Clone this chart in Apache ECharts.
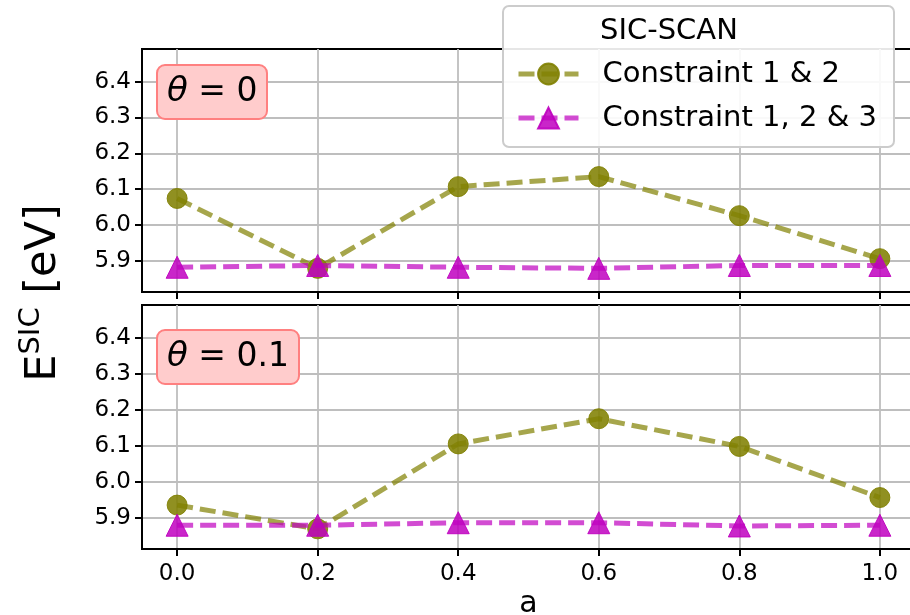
<!DOCTYPE html>
<html><head><meta charset="utf-8">
<script src="https://cdn.jsdelivr.net/npm/echarts@6/dist/echarts.min.js"></script>
<style>html,body{margin:0;padding:0;background:#fff}#c{width:910px;height:615px}</style>
</head><body><div id="c"></div>
<script>
// ---- data ----
const aValues = [0.0, 0.2, 0.4, 0.6, 0.8, 1.0];
const xTicks = [0.0, 0.2, 0.4, 0.6, 0.8, 1.0];
const yTicks = [5.9, 6.0, 6.1, 6.2, 6.3, 6.4];
const theta0_c12 = [6.074, 5.879, 6.107, 6.135, 6.026, 5.906];
const theta0_c123 = [5.882, 5.887, 5.882, 5.879, 5.887, 5.887];
const theta01_c12 = [5.935, 5.869, 6.105, 6.175, 6.098, 5.956];
const theta01_c123 = [5.879, 5.879, 5.886, 5.886, 5.877, 5.879];
const seriesNames = ['Constraint 1 & 2', 'Constraint 1, 2 & 3'];
const panelThetas = ['0', '0.1'];
const legendTitle = 'SIC-SCAN';
const xName = 'a';

// ---- styling ----
const FONT = 'DejaVu Sans';
const OLIVE_LINE = 'rgba(128,128,0,0.7)';
const OLIVE_MARK = 'rgba(128,128,0,0.87)';
const MAG_LINE = 'rgba(191,0,191,0.7)';
const MAG_MARK = 'rgba(191,0,191,0.85)';
const GRID_COLOR = '#bebebe';

const chart = echarts.init(document.getElementById('c'), null, {renderer: 'canvas'});

const grids = [
  {left: 142, top: 49, width: 773, height: 243},
  {left: 142, top: 305, width: 773, height: 244}
].map(g => Object.assign(g, {
  show: true, borderColor: '#000', borderWidth: 2, backgroundColor: 'transparent',
  outerBoundsMode: 'none', containLabel: false
}));

function xAxisFor(i, showLabels) {
  return {
    type: 'value', gridIndex: i, min: -0.05, max: 1.05,
    axisLine: {show: true, onZero: false, lineStyle: {color: '#000', width: 2}},
    axisTick: {show: true, length: 7, inside: false, customValues: xTicks, lineStyle: {color: '#000', width: 2}},
    axisLabel: {show: showLabels, customValues: xTicks, margin: 14,
      formatter: v => Number(v).toFixed(1), color: '#000', fontFamily: FONT, fontSize: 23},
    splitLine: {show: true, lineStyle: {color: GRID_COLOR, width: 1.8}},
    name: showLabels ? xName : '', nameLocation: 'middle', nameGap: 40,
    nameTextStyle: {color: '#000', fontFamily: FONT, fontSize: 30}
  };
}
function yAxisFor(i) {
  return {
    type: 'value', gridIndex: i, min: 5.813, max: 6.491,
    axisLine: {show: true, onZero: false, lineStyle: {color: '#000', width: 2}},
    axisTick: {show: true, length: 7, customValues: yTicks, lineStyle: {color: '#000', width: 2}},
    axisLabel: {show: true, customValues: yTicks, margin: 11,
      formatter: v => Number(v).toFixed(1), color: '#000', fontFamily: FONT, fontSize: 23},
    splitLine: {show: true, lineStyle: {color: GRID_COLOR, width: 1.8}}
  };
}

function mkSeries(name, vals, idx, isOlive) {
  return {
    type: 'line', name: name, xAxisIndex: idx, yAxisIndex: idx,
    data: aValues.map((a, k) => [a, vals[k]]),
    symbol: isOlive ? 'circle' : 'triangle',
    symbolSize: isOlive ? 20 : 22,
    showSymbol: true,
    lineStyle: {color: isOlive ? OLIVE_LINE : MAG_LINE, width: 5, type: [16, 7]},
    itemStyle: {color: isOlive ? OLIVE_MARK : MAG_MARK,
      borderColor: isOlive ? 'rgba(128,128,0,0.9)' : 'rgba(191,0,191,0.9)', borderWidth: 1},
    emphasis: {disabled: true},
    animation: false,
    z: isOlive ? 3 : 4
  };
}

function thetaTitle(t, top) {
  return {
    text: '{i|θ}{n| = ' + t + '}',
    left: 157, top: top,
    backgroundColor: '#ffcccc', borderColor: '#ff8080', borderWidth: 2, borderRadius: 8,
    padding: [10, 10, 10, 10],
    textStyle: {
      fontWeight: 'normal', lineHeight: 34,
      rich: {
        i: {fontFamily: FONT, fontStyle: 'italic', fontWeight: 'normal', fontSize: 34, lineHeight: 34, color: '#000'},
        n: {fontFamily: FONT, fontWeight: 'normal', fontSize: 33, lineHeight: 34, color: '#000'}
      }
    }
  };
}

const option = {
  animation: false,
  backgroundColor: '#fff',
  grid: grids,
  xAxis: [xAxisFor(0, false), xAxisFor(1, true)],
  yAxis: [yAxisFor(0), yAxisFor(1)],
  title: [thetaTitle(panelThetas[0], 65), thetaTitle(panelThetas[1], 330)],
  legend: {
    data: seriesNames,
    orient: 'vertical', left: 516, top: 59, padding: 0,
    itemWidth: 60, itemHeight: 26, itemGap: 14,
    lineStyle: {width: 5},
    textStyle: {fontFamily: FONT, fontSize: 29, color: '#000', lineHeight: 30, padding: [0, 0, 0, 19]},
    selectedMode: false, z: 20
  },
  graphic: [
    {type: 'rect', z: 15, shape: {x: 503, y: 6, width: 391, height: 141, r: 6},
     style: {fill: 'rgba(255,255,255,0.9)', stroke: '#cccccc', lineWidth: 2}},
    {type: 'text', z: 16, x: 600, y: 31,
     style: {text: legendTitle, fontFamily: FONT, fontSize: 29, fill: '#000', textVerticalAlign: 'middle', textAlign: 'left'}},
    {type: 'text', z: 16, x: 40, y: 293, rotation: Math.PI / 2,
     style: {
       text: '{e|E}{s|SIC}{e| [eV]}', align: 'center', verticalAlign: 'middle',
       rich: {
         e: {fontFamily: FONT, fontSize: 43, fill: '#000', lineHeight: 50, verticalAlign: 'bottom'},
         s: {fontFamily: FONT, fontSize: 29, fill: '#000', lineHeight: 50, verticalAlign: 'top', padding: [2, 0, 0, 0]}
       }
     }}
  ],
  series: [
    mkSeries(seriesNames[0], theta0_c12, 0, true),
    mkSeries(seriesNames[1], theta0_c123, 0, false),
    mkSeries(seriesNames[0], theta01_c12, 1, true),
    mkSeries(seriesNames[1], theta01_c123, 1, false)
  ]
};
chart.setOption(option);
</script>
</body></html>
